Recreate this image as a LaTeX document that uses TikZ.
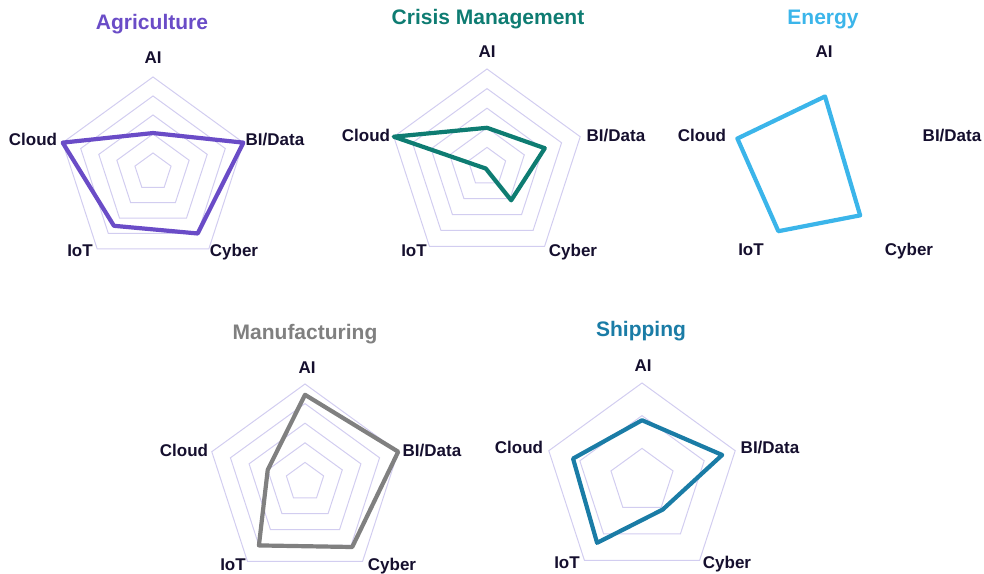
\documentclass[tikz,border=0pt]{standalone}
\usepackage{fontspec}
\setmainfont{Liberation Sans}
\usepackage{xcolor}
\usepackage{tikz}

\definecolor{agri}{HTML}{6A4CC7}
\definecolor{crisis}{HTML}{0E7C72}
\definecolor{energy}{HTML}{3BB5EA}
\definecolor{manuf}{HTML}{808080}
\definecolor{ship}{HTML}{1A7CA6}
\definecolor{labelnavy}{HTML}{150F2E}
\definecolor{gridlav}{HTML}{D2CDF0}

\tikzset{
  gridline/.style={color=gridlav, line width=1pt},
  dataline/.style={line width=4.2pt, line join=round},
  axislabel/.style={anchor=base, inner sep=0pt, text=labelnavy, font=\fontsize{17}{20}\selectfont\bfseries},
  charttitle/.style={anchor=base, inner sep=0pt, font=\fontsize{21}{25}\selectfont\bfseries},
}

\begin{document}
\begin{tikzpicture}[x=1pt,y=1pt]
\useasboundingbox (0,0) rectangle (984,573);

% Agriculture
\begin{scope}[shift={(153,401)},scale=95]
\foreach \lvl in {0.2,0.4,0.6,0.8,1}
  \draw[gridline] (90:\lvl) -- (18:\lvl) -- (-54:\lvl) -- (234:\lvl) -- (162:\lvl) -- cycle;
\draw[dataline, color=agri] (90:0.41) -- (18:1) -- (-54:0.8) -- (234:0.7) -- (162:1) -- cycle;
\end{scope}
\node[charttitle, text=agri] (agTitle) at (152,543) {Agriculture};
\node[axislabel] (agAI) at (153,509) {AI};
\node[axislabel] (agCloud) at (33,427) {Cloud};
\node[axislabel] (agBI) at (275,427) {BI/Data};
\node[axislabel] (agIoT) at (80,316) {IoT};
\node[axislabel] (agCyber) at (234,316) {Cyber};

% Crisis Management
\begin{scope}[shift={(487,406)},scale=98]
\foreach \lvl in {0.2,0.4,0.6,0.8,1}
  \draw[gridline] (90:\lvl) -- (18:\lvl) -- (-54:\lvl) -- (234:\lvl) -- (162:\lvl) -- cycle;
\draw[dataline, color=crisis] (90:0.4) -- (18:0.62) -- (-54:0.42) -- (234:0.02) -- (162:1) -- cycle;
\end{scope}
\node[charttitle, text=crisis] (crTitle) at (488,548) {Crisis Management};
\node[axislabel] (crAI) at (487,515) {AI};
\node[axislabel] (crCloud) at (366,431) {Cloud};
\node[axislabel] (crBI) at (616,431) {BI/Data};
\node[axislabel] (crIoT) at (414,316) {IoT};
\node[axislabel] (crCyber) at (573,316) {Cyber};

% Energy (no grid, BI/Data missing)
\begin{scope}[shift={(825,406)},scale=98]
\draw[dataline, color=energy] (90:0.72) -- (-54:0.61) -- (234:0.81) -- (162:0.94) -- cycle;
\end{scope}
\node[charttitle, text=energy] (enTitle) at (823,548) {Energy};
\node[axislabel] (enAI) at (824,515) {AI};
\node[axislabel] (enCloud) at (702,431) {Cloud};
\node[axislabel] (enBI) at (952,431) {BI/Data};
\node[axislabel] (enIoT) at (751,317) {IoT};
\node[axislabel] (enCyber) at (909,317) {Cyber};

% Manufacturing
\begin{scope}[shift={(305,91)},scale=98]
\foreach \lvl in {0.2,0.4,0.6,0.8,1}
  \draw[gridline] (90:\lvl) -- (18:\lvl) -- (-54:\lvl) -- (234:\lvl) -- (162:\lvl) -- cycle;
\draw[dataline, color=manuf] (90:0.89) -- (18:1) -- (-54:0.82) -- (234:0.8) -- (162:0.4) -- cycle;
\end{scope}
\node[charttitle, text=manuf] (maTitle) at (305,233) {Manufacturing};
\node[axislabel] (maAI) at (307,199) {AI};
\node[axislabel] (maCloud) at (184,117) {Cloud};
\node[axislabel] (maBI) at (432,117) {BI/Data};
\node[axislabel] (maIoT) at (233,3) {IoT};
\node[axislabel] (maCyber) at (392,3) {Cyber};

% Shipping
\begin{scope}[shift={(642,92)},scale=98]
\foreach \lvl in {0.333,0.667,1}
  \draw[gridline] (90:\lvl) -- (18:\lvl) -- (-54:\lvl) -- (234:\lvl) -- (162:\lvl) -- cycle;
\draw[dataline, color=ship] (90:0.62) -- (18:0.86) -- (-54:0.36) -- (234:0.78) -- (162:0.74) -- cycle;
\end{scope}
\node[charttitle, text=ship] (shTitle) at (641,236) {Shipping};
\node[axislabel] (shAI) at (643,201) {AI};
\node[axislabel] (shCloud) at (519,120) {Cloud};
\node[axislabel] (shBI) at (770,120) {BI/Data};
\node[axislabel] (shIoT) at (567,5) {IoT};
\node[axislabel] (shCyber) at (727,5) {Cyber};
\end{tikzpicture}
\end{document}
